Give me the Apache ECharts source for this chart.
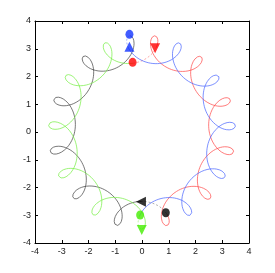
<!DOCTYPE html>
<html><head><meta charset="utf-8">
<script src="https://cdn.jsdelivr.net/npm/echarts@6/dist/echarts.min.js"></script>
<style>html,body{margin:0;padding:0;background:#fff}#c{width:275px;height:273px}</style>
</head><body><div id="c"></div>
<script>
// Axis ticks
const xTicks = [-4, -3, -2, -1, 0, 1, 2, 3, 4];
const yTicks = [-4, -3, -2, -1, 0, 1, 2, 3, 4];

// Orbit: guiding radius, loop radius, first loop tip angle (deg),
// angle travelled between two loop tips (deg) -> 23 loops per two turns
const guideRadius = 3.0;
const loopRadius = 0.5;
const firstTipAngle = 82;
const tipSpacing = 31.304;

// Segments of the trajectory, as travelled angle (deg) from the first tip
const redDashed   = [-15.65, -7.2];
const redSolid    = [-7.2, 163.9];
const blackDashed = [163.9, 172.2];
const blackSolid  = [172.2, 344.3];
const blueDashed  = [344.3, 351.4];
const blueSolid   = [351.4, 524.4];
const greenDashed = [524.4, 532.2];
const greenSolid  = [532.2, 704.35];

// Markers [x, y]
const redCircle = [-0.35, 2.51],   redTriangle = [0.49, 3.02];
const blackCircle = [0.89, -2.91], blackTriangle = [-0.04, -2.51];
const blueCircle = [-0.47, 3.52],  blueTriangle = [-0.47, 3.07];
const greenCircle = [-0.07, -2.99], greenTriangle = [-0.01, -3.53];

function trace(seg) {
  const out = [];
  const n = Math.max(2, Math.ceil((seg[1] - seg[0]) / 0.2));
  for (let i = 0; i <= n; i++) {
    const u = seg[0] + (seg[1] - seg[0]) * i / n;
    const th = (firstTipAngle - u) * Math.PI / 180;
    const ps = th + (360 / tipSpacing) * u * Math.PI / 180;
    out.push([guideRadius * Math.cos(th) + loopRadius * Math.cos(ps),
              guideRadius * Math.sin(th) + loopRadius * Math.sin(ps)]);
  }
  return out;
}

const C = {red: '#ff4a4a', blue: '#4a66ff', green: '#77ee44', black: '#444444'};
const M = {red: '#ff0000', blue: '#1133ff', green: '#44ee00', black: '#000000'};

function lineS(seg, col, dashed) {
  return {type: 'line', data: trace(seg), showSymbol: false, silent: true, animation: false,
    lineStyle: {color: col, width: 0.9, opacity: dashed ? 0.55 : 0.8, type: dashed ? [2, 2] : 'solid'}};
}
function markS(p, col, sym, rot, size) {
  return {type: 'scatter', data: [p], symbol: sym, symbolRotate: rot, symbolSize: size,
    itemStyle: {color: col}, silent: true, animation: false, z: 5};
}

const series = [
  lineS(redDashed, C.red, true), lineS(redSolid, C.red, false),
  lineS(blackDashed, '#555', true), lineS(blackSolid, C.black, false),
  lineS(blueDashed, C.blue, true), lineS(blueSolid, C.blue, false),
  lineS(greenDashed, C.green, true), lineS(greenSolid, C.green, false),
  markS(redCircle, M.red, 'circle', 0, [8, 9]), markS(redTriangle, M.red, 'triangle', 180, 10),
  markS(blackCircle, M.black, 'circle', 0, [8, 9]), markS(blackTriangle, M.black, 'triangle', 90, 10),
  markS(blueCircle, M.blue, 'circle', 0, [8, 9]), markS(blueTriangle, M.blue, 'triangle', 0, 10),
  markS(greenCircle, M.green, 'circle', 0, [8, 9]), markS(greenTriangle, M.green, 'triangle', 180, 10)
];

const lab = {fontFamily: 'Liberation Sans, Arial, sans-serif', fontSize: 9, color: '#222'};
function ax(pos, show, ticks) {
  return {type: 'value', min: ticks[0], max: ticks[ticks.length - 1], interval: 1, position: pos,
    axisLine: {show: true, onZero: false, lineStyle: {color: '#000', width: 1}},
    axisTick: {show: true, inside: true, length: 3, lineStyle: {color: '#000'}},
    axisLabel: Object.assign({show: show, margin: 4, formatter: v => String(v)}, lab),
    splitLine: {show: false}};
}

const chart = echarts.init(document.getElementById('c'), null, {renderer: 'canvas'});
chart.setOption({
  animation: false,
  grid: {left: 35, right: 26, top: 21, bottom: 30, containLabel: false},
  xAxis: [ax('bottom', true, xTicks), ax('top', false, xTicks)],
  yAxis: [ax('left', true, yTicks), ax('right', false, yTicks)],
  series: series
});
</script></body></html>
